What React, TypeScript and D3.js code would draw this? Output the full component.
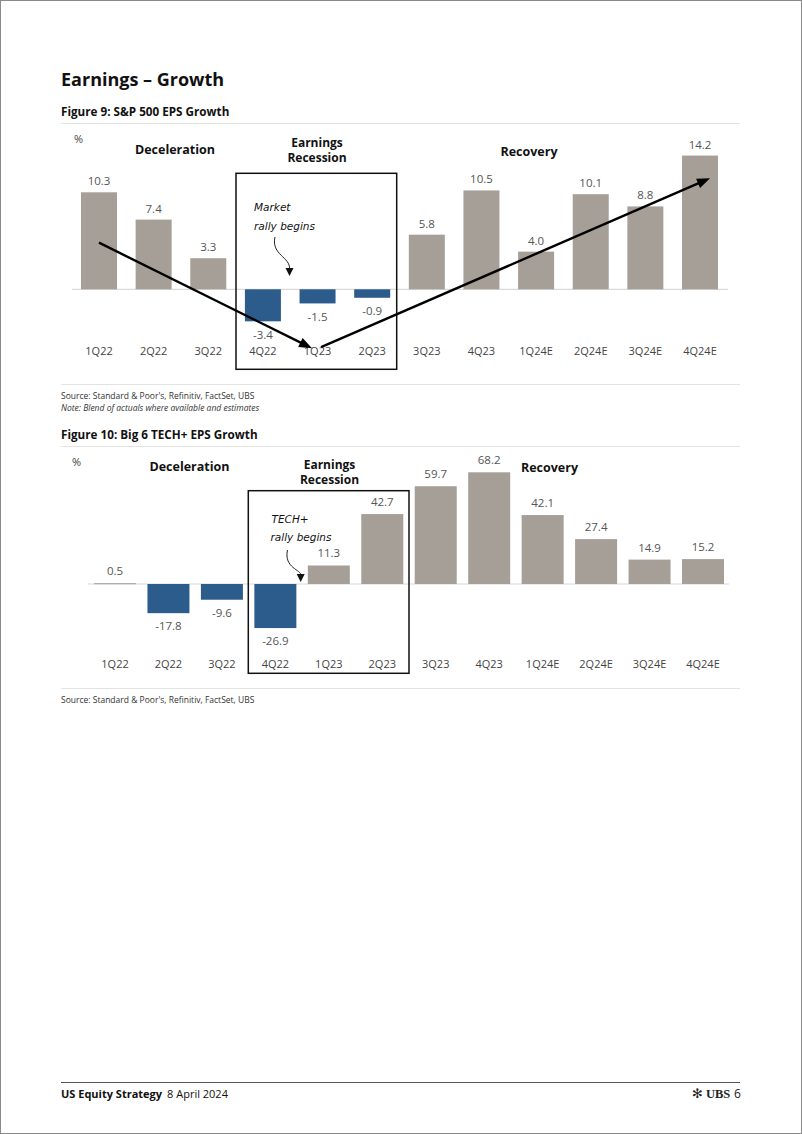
import React from "react";
import * as d3 from "d3";

const quarters = ["1Q22","2Q22","3Q22","4Q22","1Q23","2Q23","3Q23","4Q23","1Q24E","2Q24E","3Q24E","4Q24E"];
const spxGrowth = [10.3, 7.4, 3.3, -3.4, -1.5, -0.9, 5.8, 10.5, 4.0, 10.1, 8.8, 14.2];
const techGrowth = [0.5, -17.8, -9.6, -26.9, 11.3, 42.7, 59.7, 68.2, 42.1, 27.4, 14.9, 15.2];

const GREY = "#a69f98";
const BLUE = "#2b5c8b";
const FONT = "'Open Sans', 'Noto Sans', sans-serif";

function Arrow({ x1, y1, x2, y2, w = 2.4, head = 13, hw = 5 }: any) {
  const ang = Math.atan2(y2 - y1, x2 - x1);
  const bx = x2 - head * Math.cos(ang);
  const by = y2 - head * Math.sin(ang);
  const px = -Math.sin(ang) * hw, py = Math.cos(ang) * hw;
  return (
    <g>
      <line x1={x1} y1={y1} x2={bx + 2 * Math.cos(ang)} y2={by + 2 * Math.sin(ang)} stroke="#000" strokeWidth={w} />
      <path d={`M${x2},${y2}L${bx + px},${by + py}L${bx - px},${by - py}Z`} fill="#000" />
    </g>
  );
}

function Curly({ x0, y0, x1, y1 }: any) {
  const path = d3.path();
  path.moveTo(x0, y0);
  path.bezierCurveTo(x0 - 4, y0 + 18, x1 + 1, y0 + 20, x1, y1 - 7);
  return (
    <g>
      <path d={path.toString()} fill="none" stroke="#222" strokeWidth={1} />
      <path d={`M${x1 - 4},${y1 - 8}L${x1 + 4},${y1 - 8}L${x1},${y1}Z`} fill="#111" />
    </g>
  );
}

function TwoLine({ x, y, a, b, gap, size }: any) {
  return (
    <text x={x} y={y} textAnchor="middle" fontSize={size} fontWeight="bold" fill="#111">
      <tspan x={x}>{a}</tspan>
      <tspan x={x} dy={gap}>{b}</tspan>
    </text>
  );
}

function Chart1() {
  const x = d3.scalePoint<string>().domain(quarters).range([99, 700]);
  const y = d3.scaleLinear().domain([0, 10.3]).range([289.3, 192.3]);
  const bw = 36;
  return (
    <g fontFamily={FONT}>
      <line x1={72} x2={728} y1={y(0)} y2={y(0)} stroke="#d9d9d9" strokeWidth={1.2} />
      {quarters.map((q, i) => {
        const v = spxGrowth[i];
        const cx = x(q)!;
        return (
          <g key={q}>
            <rect x={cx - bw / 2} width={bw} y={Math.min(y(v), y(0))} height={Math.abs(y(v) - y(0))} fill={v < 0 ? BLUE : GREY} />
            <text x={cx} y={v >= 0 ? y(v) - 7 : y(v) + 17.5} textAnchor="middle" fontSize={11.5} fill="#555">{v.toFixed(1)}</text>
            <text x={cx} y={355} textAnchor="middle" fontSize={11} fill="#444">{q}</text>
          </g>
        );
      })}
      <text x={74} y={143} fontSize={11} fill="#444">%</text>
      <text x={175} y={153.5} textAnchor="middle" fontSize={12.5} fontWeight="bold" fill="#111">Deceleration</text>
      <TwoLine x={317} y={147.2} a="Earnings" b="Recession" gap={15} size={12} />
      <text x={529} y={156} textAnchor="middle" fontSize={12.5} fontWeight="bold" fill="#111">Recovery</text>
      <rect x={236} y={173.3} width={160.7} height={196} fill="none" stroke="#111" strokeWidth={1.5} />
      <text x={254} y={210.5} fontSize={10.5} fontStyle="italic" fontFamily="'DejaVu Sans', sans-serif" fill="#111">Market</text>
      <text x={254} y={229.5} fontSize={10.5} fontStyle="italic" fontFamily="'DejaVu Sans', sans-serif" fill="#111">rally begins</text>
      <Curly x0={275} y0={237} x1={289.5} y1={276} />
      <Arrow x1={x("1Q22")!} y1={y(4.95)} x2={x("1Q23")! - 5.5} y2={y(-6.26)} />
      <Arrow x1={x("1Q23")! + 3.5} y1={y(-6.15)} x2={x("4Q24E")! + 10} y2={y(11.8)} />
    </g>
  );
}

function Chart2() {
  const x = d3.scalePoint<string>().domain(quarters).range([115, 703]);
  const y = d3.scaleLinear().domain([0, 68.2]).range([584, 472.3]);
  const bw = 42;
  return (
    <g fontFamily={FONT}>
      <line x1={88} x2={729} y1={y(0)} y2={y(0)} stroke="#d9d9d9" strokeWidth={1.2} />
      {quarters.map((q, i) => {
        const v = techGrowth[i];
        const cx = x(q)!;
        return (
          <g key={q}>
            <rect x={cx - bw / 2} width={bw} y={Math.min(y(v), y(0))} height={Math.max(1, Math.abs(y(v) - y(0)))} fill={v < 0 ? BLUE : GREY} />
            <text x={cx} y={v >= 0 ? y(v) - 8 : y(v) + 17} textAnchor="middle" fontSize={11.5} fill="#555">{v.toFixed(1)}</text>
            <text x={cx} y={668} textAnchor="middle" fontSize={11} fill="#444">{q}</text>
          </g>
        );
      })}
      <text x={72} y={466} fontSize={11} fill="#444">%</text>
      <text x={189.5} y={471} textAnchor="middle" fontSize={12.5} fontWeight="bold" fill="#111">Deceleration</text>
      <TwoLine x={329.5} y={468.5} a="Earnings" b="Recession" gap={15} size={12} />
      <text x={549.5} y={471.5} textAnchor="middle" fontSize={12.5} fontWeight="bold" fill="#111">Recovery</text>
      <rect x={248.3} y={490.7} width={160.7} height={182.6} fill="none" stroke="#111" strokeWidth={1.5} />
      <text x={271.5} y={523} fontSize={10.5} fontStyle="italic" fontFamily="'DejaVu Sans', sans-serif" fill="#111">TECH+</text>
      <text x={270.5} y={541} fontSize={10.5} fontStyle="italic" fontFamily="'DejaVu Sans', sans-serif" fill="#111">rally begins</text>
      <Curly x0={287.5} y0={550} x1={300.7} y1={582} />
    </g>
  );
}

export default function App() {
  return (
    <svg width={802} height={1134} style={{ position: "absolute", left: 0, top: 0, background: "#fff" }} fontFamily={FONT}>
      <rect x={0.5} y={0.5} width={801} height={1133} fill="#fff" stroke="#8a8a8a" strokeWidth={1} />
      <text x={61} y={86} fontSize={18} fontWeight="bold" fill="#111">Earnings – Growth</text>
      <text x={61} y={116} fontSize={11.7} fontWeight="bold" fill="#111">Figure 9: S&amp;P 500 EPS Growth</text>
      <line x1={61} x2={740} y1={123.5} y2={123.5} stroke="#e3e3e3" strokeWidth={1} />
      <Chart1 />
      <line x1={61} x2={740} y1={384.5} y2={384.5} stroke="#e3e3e3" strokeWidth={1} />
      <text x={61} y={399} fontSize={8.5} fill="#333">Source: Standard &amp; Poor's, Refinitiv, FactSet, UBS</text>
      <text x={61} y={410.5} fontSize={8.5} fontStyle="italic" fill="#333">Note: Blend of actuals where available and estimates</text>
      <text x={61} y={439} fontSize={11.7} fontWeight="bold" fill="#111">Figure 10: Big 6 TECH+ EPS Growth</text>
      <line x1={61} x2={740} y1={446.5} y2={446.5} stroke="#e3e3e3" strokeWidth={1} />
      <Chart2 />
      <line x1={61} x2={740} y1={688.5} y2={688.5} stroke="#e3e3e3" strokeWidth={1} />
      <text x={61} y={703} fontSize={8.5} fill="#333">Source: Standard &amp; Poor's, Refinitiv, FactSet, UBS</text>
      <line x1={61} x2={740} y1={1082.5} y2={1082.5} stroke="#555" strokeWidth={1} />
      <text x={61} y={1097.5} fontSize={11} fill="#111">
        <tspan fontWeight="bold">US Equity Strategy</tspan>
        <tspan dx={5}>8 April 2024</tspan>
      </text>
      <text x={692} y={1098} fontSize={13} fill="#222" fontFamily="'DejaVu Sans', sans-serif">✻</text>
      <text x={706} y={1097.5} fontSize={12.5} fontWeight="bold" fill="#222" fontFamily="'Liberation Serif', serif">UBS</text>
      <text x={734} y={1097.5} fontSize={12} fill="#222">6</text>
    </svg>
  );
}
